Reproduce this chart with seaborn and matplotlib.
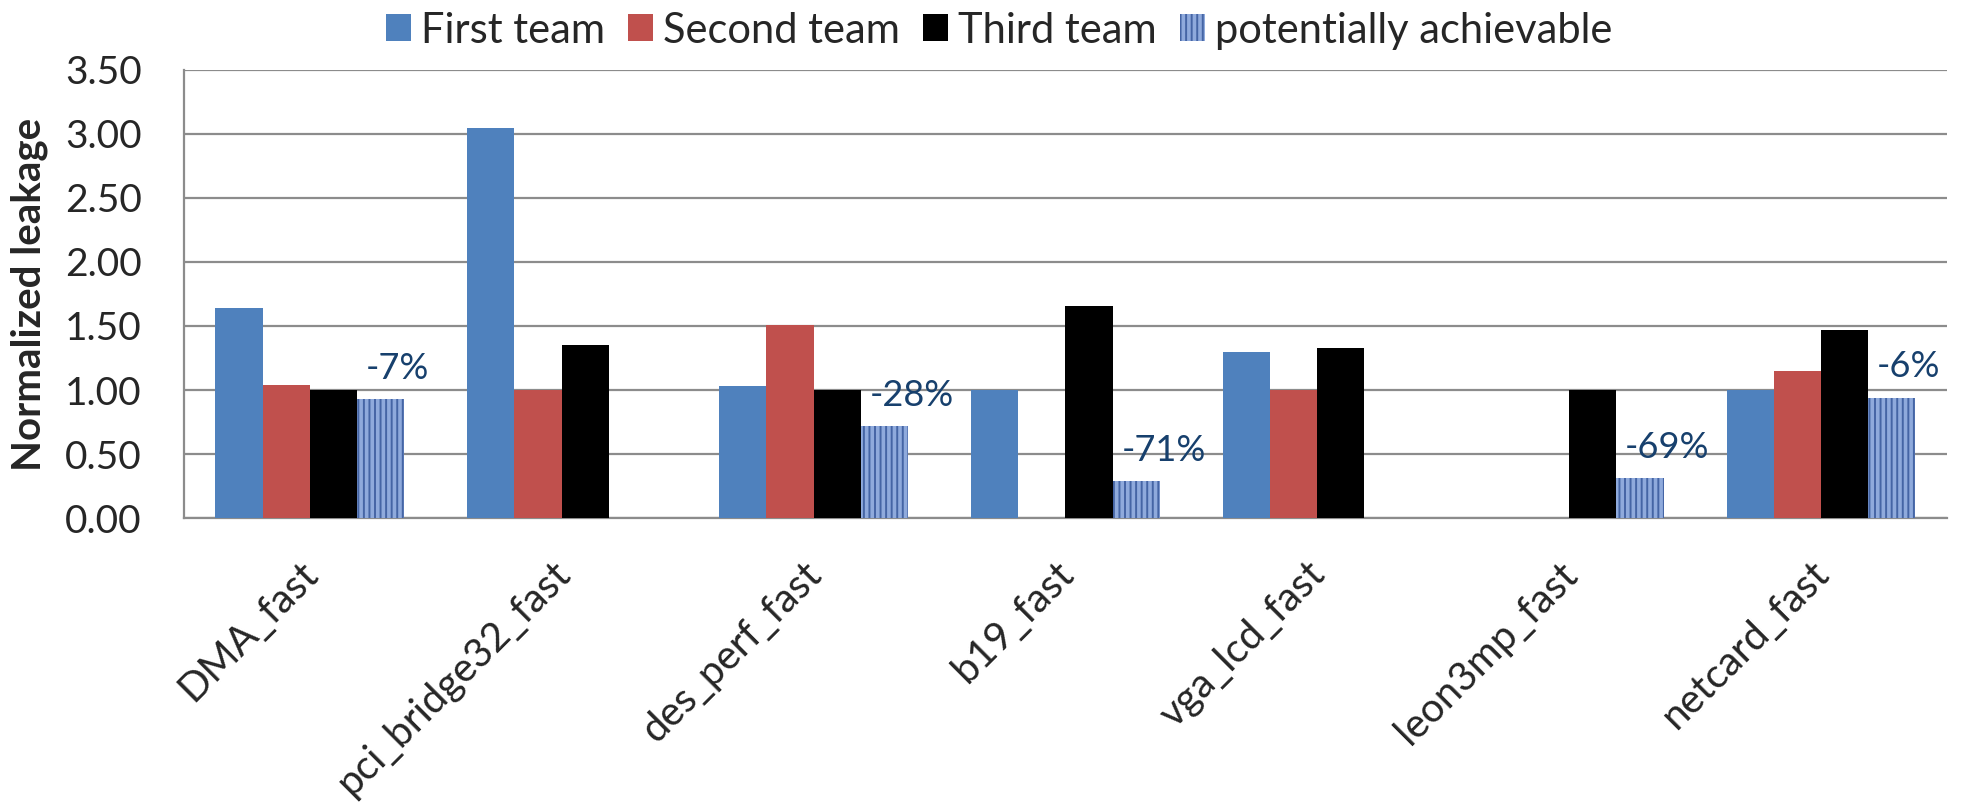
import numpy as np
import pandas as pd
import seaborn as sns
import matplotlib.pyplot as plt
from matplotlib.ticker import FixedLocator, FormatStrFormatter
from matplotlib.transforms import ScaledTranslation

# Chart data
designs = ['DMA_fast', 'pci_bridge32_fast', 'des_perf_fast', 'b19_fast',
           'vga_lcd_fast', 'leon3mp_fast', 'netcard_fast']
series = ['First team', 'Second team', 'Third team', 'potentially achievable']
first_team = [1.64, 3.05, 1.03, 1.00, 1.30, np.nan, 1.00]
second_team = [1.04, 1.00, 1.51, np.nan, 1.00, np.nan, 1.15]
third_team = [1.00, 1.35, 1.00, 1.66, 1.33, 1.00, 1.47]
potential = [0.93, np.nan, 0.72, 0.29, np.nan, 0.31, 0.94]
potential_labels = ['-7%', None, '-28%', '-71%', None, '-69%', '-6%']

colors = ['#4F81BD', '#C0504D', '#000000', '#8FAADC']

# Long-form table for seaborn
rows = []
for name, vals in zip(series, [first_team, second_team, third_team, potential]):
    for d, v in zip(designs, vals):
        rows.append({'design': d, 'series': name, 'value': v})
df = pd.DataFrame(rows)

sns.set_style('white')
plt.rcParams['font.family'] = ['Lato', 'DejaVu Sans']
plt.rcParams['hatch.linewidth'] = 1.4

fig = plt.figure(figsize=(19.63, 8.06), dpi=100)
ax = fig.add_axes([0.0937, 0.3573, 0.8981, 0.5559])

sns.barplot(data=df, x='design', y='value', hue='series', order=designs,
            hue_order=series, palette=colors, width=0.75, ax=ax,
            errorbar=None, saturation=1, linewidth=0, zorder=3)

# textured look for "potentially achievable"
pot_bars = ax.containers[3]
for p in pot_bars.patches:
    p.set_hatch('|||')
    p.set_edgecolor('#4565A5')
    p.set_linewidth(0)

# percentage labels
present = [lab for lab in potential_labels if lab is not None]
for p, lab in zip(pot_bars.patches, present):
    ax.text(p.get_x() + 0.035, p.get_height() + 0.24, lab, ha='left',
            va='center', fontsize=26, color='#17406D', zorder=5)

ax.set_ylim(0, 3.5)
ax.set_xlim(-0.5, 6.5)
ax.set_yticks(np.arange(0, 3.51, 0.5))
ax.yaxis.set_major_formatter(FormatStrFormatter('%.2f'))
ax.yaxis.grid(True, color='#8C8C8C', linewidth=1.6, zorder=0)
ax.set_axisbelow(True)

for s in ['top', 'right']:
    ax.spines[s].set_visible(False)
for s in ['left', 'bottom']:
    ax.spines[s].set_color('#8C8C8C')
    ax.spines[s].set_linewidth(1.6)

ax.tick_params(axis='y', which='major', direction='out', length=9.5, width=1.6,
               color='#8C8C8C', labelsize=28, pad=21)
ax.tick_params(axis='x', which='major', length=0, labelsize=29, pad=0)
ax.xaxis.set_minor_locator(FixedLocator(np.arange(-0.5, 6.6, 1.0)))
ax.tick_params(axis='x', which='minor', direction='out', length=10, width=1.6,
               color='#8C8C8C')
shift = ScaledTranslation(0.02, -0.50, fig.dpi_scale_trans)
for t in ax.get_xticklabels():
    t.set_rotation(45)
    t.set_ha('right')
    t.set_va('center')
    t.set_rotation_mode('anchor')
    t.set_transform(t.get_transform() + shift)

ax.set_xlabel('')
ax.set_ylabel('Normalized leakage', fontsize=29, fontweight='bold')
ax.yaxis.set_label_coords(-0.077, 0.5)

handles = [c.patches[0] for c in ax.containers]
leg = ax.legend(handles, series, loc='center', bbox_to_anchor=(0.509, 0.962),
                bbox_transform=fig.transFigure, ncol=4, frameon=False,
                fontsize=30, handlelength=0.6, handleheight=0.62,
                handletextpad=0.24, columnspacing=0.55)

fig.savefig('out.png', dpi=100)
